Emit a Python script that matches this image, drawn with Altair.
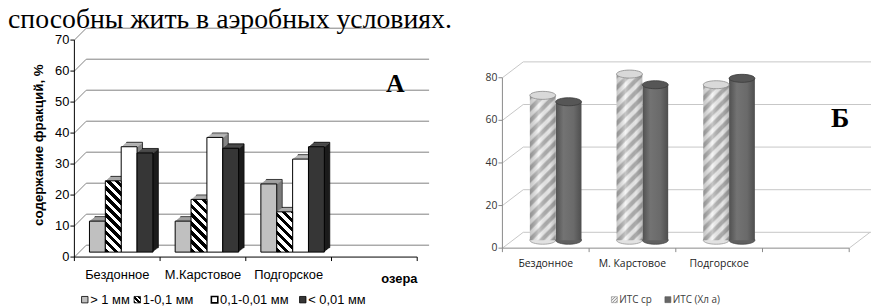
import altair as alt
import pandas as pd

# ---------------- data ----------------
header_text = "способны жить в аэробных условиях."

lakes_a = ["Бездонное", "М.Карстовое", "Подгорское"]
fractions = ["> 1 мм", "1-0,1 мм", "0,1-0,01 мм", "< 0,01 мм"]
frac_gt_1 = [10, 10, 22]
frac_1_01 = [23, 17, 13]
frac_01_001 = [34, 37, 30]
frac_lt_001 = [32, 33.5, 34]
ticks_a = [0, 10, 20, 30, 40, 50, 60, 70]
title_y_a = "содержание фракций, %"
title_x_a = "озера"
panel_a_label = "А"

lakes_b = ["Бездонное", "М. Карстовое", "Подгорское"]
series_b = ["ИТС  ср", "ИТС  (Хл а)"]
its_sr = [68, 78, 73]
its_chl = [65, 73, 76]
ticks_b = [0, 20, 40, 60, 80]
panel_b_label = "Б"

# ---------------- layout / style ----------------
W, H = 871, 298
SANS = "Liberation Sans"
SERIF = "Liberation Serif"
SANS_B = "Open Sans"

A_X = [67, 413]
A_Y = [250, 31]
A_MAX = 70
A_BACK = (12, -12)
A_SHIFT = (4, -5)
A_DEPTH = (5.5, -4.5)
A_PAD = 0.7
A_BAR_W = (A_X[1] - A_X[0]) / 4 / (4 + 2 * A_PAD)
A_START = A_PAD * A_BAR_W + A_SHIFT[0]
A_PX = (A_Y[0] - A_Y[1]) / A_MAX
front_a = ["#c0c0c0", "#ffffff", "#ffffff", "#363636"]
top_a = ["#ababab", "#bcbcbc", "#c2c2c2", "#5a5a5a"]
side_a = ["#7c7c7c", "#808080", "#858585", "#1c1c1c"]
legend_a_cx = [77.5, 130.5, 208.5, 297.5]

B_X = [499, 849]
B_Y = [241, 69]
B_MAX = 80
B_BACK = (21, -16)
B_SHIFT = (10, -8)
B_PAD = 0.68
B_BAR_W = (B_X[1] - B_X[0]) / 4 / (2 + 2 * B_PAD)
B_START = B_PAD * B_BAR_W + B_SHIFT[0]
B_PX = (B_Y[0] - B_Y[1]) / B_MAX
GRID_B = "#c6c6c6"
AXIS_B = "#8a8a8a"
ELLIPSE = "M -1 0 A 1 0.31 0 1 0 1 0 A 1 0.31 0 1 0 -1 0 Z"
bot_fill_b = ["#e2e2e2", "#606060"]
bot_stroke_b = ["#9a9a9a", "#454545"]
top_fill_b = ["#d9d9d9", "#565656"]
top_stroke_b = ["#8c8c8c", "#3a3a3a"]
legend_b_cx = [612, 666]


def stripes(w, h, period, ca, cb, kind, soft=False):
    c = w * h * (w + h) / (w * w + h * h)
    if kind == "back":
        x1, y1, x2, y2 = 0, 1, c / h, 1 - c / w
    else:
        x1, y1, x2, y2 = 0, 0, c / h, c / w
    L = w + h
    step = period / L
    stops = []
    i = 0
    while i * step < 1:
        o = i * step
        if soft:
            pts = [(o, ca), (o + 0.3 * step, ca), (o + 0.5 * step, cb), (o + 0.8 * step, cb)]
        else:
            pts = [(o, ca), (o + 0.5 * step, ca), (o + 0.5 * step, cb), (o + step, cb)]
        for off, col in pts:
            if off <= 1:
                stops.append({"offset": round(off, 5), "color": col})
        i += 1
    return {"gradient": "linear", "x1": round(x1, 5), "y1": round(y1, 5),
            "x2": round(x2, 5), "y2": round(y2, 5), "stops": stops}


def one(**kw):
    return pd.DataFrame([kw]) if kw else pd.DataFrame([{"k": 0}])


# ---------------- panel A ----------------
rows = []
for i, lake in enumerate(lakes_a):
    for j, arr in enumerate([frac_gt_1, frac_1_01, frac_01_001, frac_lt_001]):
        rows.append(dict(lake=lake, frac=fractions[j], value=arr[i], base=0,
                         front=front_a[j], top=top_a[j], side=side_a[j]))
df_a = pd.DataFrame(rows)

xa_scale = alt.Scale(domain=lakes_a + [" "], range=A_X, paddingInner=0, paddingOuter=0)
ya_scale = alt.Scale(domain=[0, A_MAX], range=A_Y, nice=False)


def xa(**kw):
    return alt.X("lake:N", scale=xa_scale, axis=None, **kw)


def enc_a(ox):
    return dict(
        x=xa(),
        xOffset=alt.XOffset("frac:N", scale=alt.Scale(
            domain=fractions, range=[A_START + ox, A_START + ox + 4 * A_BAR_W],
            paddingInner=0, paddingOuter=0)),
        y=alt.Y("value:Q", scale=ya_scale, axis=None))


def bars_a(oy, oy2=None, **kw):
    return alt.Chart(df_a).mark_bar(
        yOffset=A_SHIFT[1] + oy, y2Offset=A_SHIFT[1] + (oy if oy2 is None else oy2), **kw)


ticks_df_a = pd.DataFrame({"v": ticks_a})
ya_t = alt.Y("v:Q", scale=ya_scale, axis=None)

layers_a = []
layers_a.append(alt.Chart(ticks_df_a).mark_rule(color="#808080", yOffset=A_BACK[1]).encode(
    y=ya_t, x=alt.value(A_X[0] + A_BACK[0]), x2=alt.value(425)))
layers_a.append(alt.Chart(ticks_df_a).mark_rule(color="#808080", y2Offset=A_BACK[1]).encode(
    y=ya_t, y2=alt.Y2("v:Q"), x=alt.value(A_X[0]), x2=alt.value(A_X[0] + A_BACK[0])))
layers_a.append(alt.Chart(ticks_df_a).mark_rule(color="black").encode(
    y=ya_t, x=alt.value(A_X[0] - 4), x2=alt.value(A_X[0])))
layers_a.append(alt.Chart(ticks_df_a).mark_text(align="right", baseline="middle", font=SANS,
                                                 fontSize=13, color="black").encode(
    y=ya_t, x=alt.value(A_X[0] - 5), text="v:Q"))
layers_a.append(alt.Chart(one()).mark_rule(color="black").encode(
    x=alt.value(A_X[0]), y=alt.value(A_Y[0]), y2=alt.value(A_Y[1])))
layers_a.append(alt.Chart(one()).mark_rule(color="black").encode(
    x=alt.value(A_X[0]), x2=alt.value(A_X[1]), y=alt.value(A_Y[0])))
cats_a = pd.DataFrame({"lake": lakes_a + [" "]})
layers_a.append(alt.Chart(cats_a).mark_rule(color="black").encode(
    x=xa(bandPosition=0), y=alt.value(A_Y[0]), y2=alt.value(A_Y[0] + 4)))
layers_a.append(alt.Chart(pd.DataFrame({"lake": [" "]})).mark_rule(color="black").encode(
    x=xa(bandPosition=1), y=alt.value(A_Y[0]), y2=alt.value(A_Y[0] + 4)))
layers_a.append(alt.Chart(pd.DataFrame({"lake": lakes_a})).mark_text(
    font=SANS, fontSize=13, baseline="middle", color="black").encode(
    x=xa(), y=alt.value(268), text="lake:N"))

# 3D bars: extrusion copies (back to front), then front faces
N = 6
for k in range(N, 0, -1):
    ox = A_DEPTH[0] * k / N
    oy = A_DEPTH[1] * k / N
    if k == N:
        layers_a.append(bars_a(oy, stroke="black", strokeWidth=0.7).encode(
            **enc_a(ox), y2=alt.Y2("base:Q"), fill=alt.Fill("side:N", scale=None)))
    else:
        layers_a.append(bars_a(oy).encode(
            **enc_a(ox), y2=alt.Y2("base:Q"), fill=alt.Fill("side:N", scale=None)))
        layers_a.append(bars_a(oy, oy + 1.0).encode(
            **enc_a(ox), y2=alt.Y2("value:Q"), fill=alt.Fill("top:N", scale=None)))

layers_a.append(bars_a(0, stroke="black", strokeWidth=1).encode(
    **enc_a(0), y2=alt.Y2("base:Q"), fill=alt.Fill("front:N", scale=None)).transform_filter(
    alt.FieldOneOfPredicate(field="frac", oneOf=[fractions[0], fractions[2], fractions[3]])))
for i, lake in enumerate(lakes_a):
    g = stripes(A_BAR_W, frac_1_01[i] * A_PX, 9, "#000000", "#ffffff", "back")
    layers_a.append(bars_a(0, stroke="black", strokeWidth=1, fill=g).encode(
        **enc_a(0), y2=alt.Y2("base:Q")).transform_filter(
        alt.FieldEqualPredicate(field="lake", equal=lake)).transform_filter(
        alt.FieldEqualPredicate(field="frac", equal=fractions[1])))

# texts
layers_a.append(alt.Chart(one(t=title_y_a)).mark_text(
    font=SANS, fontSize=13.5, fontWeight="bold", angle=270, baseline="middle", color="black").encode(
    x=alt.value(31), y=alt.value(137), text="t:N"))
layers_a.append(alt.Chart(one(t=title_x_a)).mark_text(
    font=SANS, fontSize=13, fontWeight="bold", baseline="middle", color="black").encode(
    x=alt.value(395), y=alt.value(272), text="t:N"))
layers_a.append(alt.Chart(one(t=panel_a_label)).mark_text(
    font=SERIF, fontSize=26, fontWeight="bold", baseline="middle", color="black").encode(
    x=alt.value(391), y=alt.value(75), text="t:N"))
layers_a.append(alt.Chart(one(t=header_text)).mark_text(
    font=SERIF, fontSize=28, align="left", baseline="alphabetic", color="black").encode(
    x=alt.value(0), y=alt.value(19), text="t:N"))

# legend A
icon_fill_a = ["#c0c0c0", stripes(7, 7, 5, "#000000", "#ffffff", "back"), "#ffffff", "#363636"]
icon_sw_a = [0.8, 0.8, 1.6, 0.8]
for j, f in enumerate(fractions):
    cx = legend_a_cx[j]
    layers_a.append(alt.Chart(one(t=f)).mark_square(
        size=42, fill=icon_fill_a[j], stroke="black", strokeWidth=icon_sw_a[j], opacity=1).encode(
        x=alt.value(cx), y=alt.value(293)))
    layers_a.append(alt.Chart(one(t=f)).mark_text(
        font=SANS, fontSize=13, align="left", baseline="middle", color="black").encode(
        x=alt.value(cx + 5.5), y=alt.value(293), text="t:N"))

panel_a = alt.layer(*layers_a).resolve_scale(xOffset="independent")

# ---------------- panel B ----------------
rows = []
for i, lake in enumerate(lakes_b):
    for j, arr in enumerate([its_sr, its_chl]):
        rows.append(dict(lake=lake, series=series_b[j], value=arr[i], base=0,
                         bot_fill=bot_fill_b[j], bot_stroke=bot_stroke_b[j],
                         top_fill=top_fill_b[j], top_stroke=top_stroke_b[j]))
df_b = pd.DataFrame(rows)

xb_scale = alt.Scale(domain=lakes_b + [" "], range=B_X, paddingInner=0, paddingOuter=0)
yb_scale = alt.Scale(domain=[0, B_MAX], range=B_Y, nice=False)
xob_scale = alt.Scale(domain=series_b, range=[B_START, B_START + 2 * B_BAR_W],
                      paddingInner=0, paddingOuter=0)


def xb(**kw):
    return alt.X("lake:N", scale=xb_scale, axis=None, **kw)


enc_b = dict(x=xb(), xOffset=alt.XOffset("series:N", scale=xob_scale))
ticks_df_b = pd.DataFrame({"v": ticks_b})
yb_t = alt.Y("v:Q", scale=yb_scale, axis=None)

layers_b = []
layers_b.append(alt.Chart(ticks_df_b).mark_rule(color=GRID_B, yOffset=B_BACK[1]).encode(
    y=yb_t, x=alt.value(B_X[0] + B_BACK[0]), x2=alt.value(W)))
layers_b.append(alt.Chart(ticks_df_b).mark_rule(color=GRID_B, y2Offset=B_BACK[1]).encode(
    y=yb_t, y2=alt.Y2("v:Q"), x=alt.value(B_X[0]), x2=alt.value(B_X[0] + B_BACK[0])))
layers_b.append(alt.Chart(one()).mark_rule(color=GRID_B).encode(
    x=alt.value(B_X[1]), x2=alt.value(B_X[1] + B_BACK[0]), y=alt.value(B_Y[0]),
    y2=alt.value(B_Y[0] + B_BACK[1])))
layers_b.append(alt.Chart(ticks_df_b).mark_rule(color=AXIS_B).encode(
    y=yb_t, x=alt.value(B_X[0] - 4), x2=alt.value(B_X[0])))
layers_b.append(alt.Chart(ticks_df_b).mark_text(align="right", baseline="middle", font=SANS_B,
                                                 fontSize=10.5, color="#333333").encode(
    y=yb_t, x=alt.value(B_X[0] - 5), text="v:Q"))
layers_b.append(alt.Chart(one()).mark_rule(color=AXIS_B).encode(
    x=alt.value(B_X[0]), y=alt.value(B_Y[0]), y2=alt.value(B_Y[1])))
layers_b.append(alt.Chart(one()).mark_rule(color=AXIS_B).encode(
    x=alt.value(B_X[0]), x2=alt.value(B_X[1]), y=alt.value(B_Y[0])))
cats_b = pd.DataFrame({"lake": lakes_b + [" "]})
layers_b.append(alt.Chart(cats_b).mark_rule(color=AXIS_B).encode(
    x=xb(bandPosition=0), y=alt.value(B_Y[0]), y2=alt.value(B_Y[0] + 4)))
layers_b.append(alt.Chart(pd.DataFrame({"lake": [" "]})).mark_rule(color=AXIS_B).encode(
    x=xb(bandPosition=1), y=alt.value(B_Y[0]), y2=alt.value(B_Y[0] + 4)))
layers_b.append(alt.Chart(pd.DataFrame({"lake": lakes_b})).mark_text(
    font=SANS_B, fontSize=10.5, baseline="middle", color="#222222").encode(
    x=xb(), y=alt.value(257), text="lake:N"))

pt_kw = dict(shape=ELLIPSE, size=B_BAR_W ** 2, filled=True, opacity=1, strokeWidth=0.8,
             yOffset=B_SHIFT[1])
bar_kw = dict(yOffset=B_SHIFT[1], y2Offset=B_SHIFT[1])

# bottom ellipses
layers_b.append(alt.Chart(df_b).mark_point(**pt_kw).encode(
    **enc_b, y=alt.Y("base:Q", scale=yb_scale, axis=None),
    fill=alt.Fill("bot_fill:N", scale=None), stroke=alt.Stroke("bot_stroke:N", scale=None)))
# dark bodies
dark_grad = {"gradient": "linear", "x1": 0, "y1": 0, "x2": 1, "y2": 0, "stops": [
    {"offset": 0, "color": "#505050"}, {"offset": 0.3, "color": "#737373"},
    {"offset": 0.7, "color": "#6a6a6a"}, {"offset": 1, "color": "#4e4e4e"}]}
layers_b.append(alt.Chart(df_b).mark_bar(fill=dark_grad, **bar_kw).encode(
    **enc_b, y=alt.Y("value:Q", scale=yb_scale, axis=None), y2=alt.Y2("base:Q")).transform_filter(
    alt.FieldEqualPredicate(field="series", equal=series_b[1])))
# hatched bodies
for i, lake in enumerate(lakes_b):
    g = stripes(B_BAR_W, its_sr[i] * B_PX, 12, "#b3b3b3", "#f2f2f2", "fwd", soft=True)
    layers_b.append(alt.Chart(df_b).mark_bar(fill=g, **bar_kw).encode(
        **enc_b, y=alt.Y("value:Q", scale=yb_scale, axis=None), y2=alt.Y2("base:Q")).transform_filter(
        alt.FieldEqualPredicate(field="lake", equal=lake)).transform_filter(
        alt.FieldEqualPredicate(field="series", equal=series_b[0])))
shade = {"gradient": "linear", "x1": 0, "y1": 0, "x2": 1, "y2": 0, "stops": [
    {"offset": 0, "color": "rgba(0,0,0,0.18)"}, {"offset": 0.35, "color": "rgba(255,255,255,0.25)"},
    {"offset": 0.75, "color": "rgba(0,0,0,0.05)"}, {"offset": 1, "color": "rgba(0,0,0,0.22)"}]}
layers_b.append(alt.Chart(df_b).mark_bar(fill=shade, **bar_kw).encode(
    **enc_b, y=alt.Y("value:Q", scale=yb_scale, axis=None), y2=alt.Y2("base:Q")).transform_filter(
    alt.FieldEqualPredicate(field="series", equal=series_b[0])))
# top ellipses
layers_b.append(alt.Chart(df_b).mark_point(**pt_kw).encode(
    **enc_b, y=alt.Y("value:Q", scale=yb_scale, axis=None),
    fill=alt.Fill("top_fill:N", scale=None), stroke=alt.Stroke("top_stroke:N", scale=None)))

layers_b.append(alt.Chart(one(t=panel_b_label)).mark_text(
    font=SERIF, fontSize=28, fontWeight="bold", baseline="middle", color="black").encode(
    x=alt.value(840), y=alt.value(111), text="t:N"))

icon_fill_b = [stripes(6, 6, 3, "#9a9a9a", "#eeeeee", "fwd"), "#666666"]
icon_stroke_b = ["#8a8a8a", "#555555"]
for j, s in enumerate(series_b):
    cx = legend_b_cx[j]
    layers_b.append(alt.Chart(one(t=s)).mark_square(
        size=36, fill=icon_fill_b[j], stroke=icon_stroke_b[j], strokeWidth=0.6, opacity=1).encode(
        x=alt.value(cx), y=alt.value(293)))
    layers_b.append(alt.Chart(one(t=s)).mark_text(
        font=SANS_B, fontSize=10, align="left", baseline="middle", color="#404040").encode(
        x=alt.value(cx + 5), y=alt.value(293), text="t:N"))

panel_b = alt.layer(*layers_b)

chart = alt.layer(panel_a, panel_b).resolve_scale(
    x="independent", y="independent", xOffset="independent"
).properties(
    width=W, height=H, padding=0, autosize=alt.AutoSizeParams(type="none"), background="white"
).configure_view(strokeWidth=0)

chart.save("out.html", embed_options={"renderer": "svg", "actions": False})
